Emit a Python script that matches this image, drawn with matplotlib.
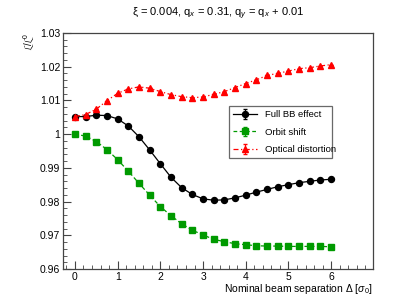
import matplotlib
matplotlib.use('Agg')
import matplotlib.pyplot as plt
from matplotlib.ticker import MultipleLocator, FuncFormatter
import numpy as np

plt.rcParams['font.family'] = ['Liberation Sans', 'DejaVu Sans']
plt.rcParams['mathtext.fontset'] = 'custom'
plt.rcParams['mathtext.rm'] = 'Liberation Sans'
plt.rcParams['mathtext.it'] = 'Liberation Sans:italic'

# separation in units of sigma_0
separation = [0, 0.25, 0.5, 0.75, 1, 1.25, 1.5, 1.75, 2, 2.25, 2.5, 2.75, 3,
              3.25, 3.5, 3.75, 4, 4.25, 4.5, 4.75, 5, 5.25, 5.5, 5.75, 6]

full_bb = [1.0052, 1.0052, 1.0056, 1.0055, 1.0045, 1.0024, 0.9992, 0.9953,
           0.9912, 0.9872, 0.9841, 0.9821, 0.9808, 0.9804, 0.9805, 0.9811,
           0.9819, 0.9828, 0.9836, 0.9844, 0.9850, 0.9856, 0.9860, 0.9864,
           0.9866]

orbit_shift = [1.0000, 0.9994, 0.9978, 0.9954, 0.9924, 0.9890, 0.9854, 0.9819,
               0.9785, 0.9758, 0.9734, 0.9715, 0.9701, 0.9688, 0.9681, 0.9675,
               0.9672, 0.9669, 0.9668, 0.9668, 0.9667, 0.9667, 0.9667, 0.9667,
               0.9666]

optical = [1.0052, 1.0058, 1.0074, 1.0099, 1.0121, 1.0134, 1.0140, 1.0136,
           1.0126, 1.0117, 1.0111, 1.0108, 1.0110, 1.0118, 1.0126, 1.0138,
           1.0150, 1.0161, 1.0174, 1.0180, 1.0187, 1.0194, 1.0197, 1.0202,
           1.0206]

labels = ['Full BB effect', 'Orbit shift', 'Optical distortion']

fig = plt.figure(figsize=(4.15, 3.0), dpi=100)
ax = fig.add_axes([0.1518, 0.1033, 0.747, 0.787])

zero = np.zeros(len(separation))
ax.errorbar(separation, full_bb, yerr=zero, color='black', lw=0.9, ls='-',
            marker='o', ms=4.3, capsize=1.5, elinewidth=0.8, label=labels[0])
ax.errorbar(separation, orbit_shift, yerr=zero, color='#009a00', lw=0.9,
            ls=(0, (3, 2)), marker='s', ms=4.0, capsize=1.5, elinewidth=0.8,
            label=labels[1])
ax.errorbar(separation, optical, yerr=zero, color='#ff0000', lw=0.9,
            ls=(0, (4, 2, 1, 2)), marker='^', ms=4.3, capsize=1.5,
            elinewidth=0.8, label=labels[2])

ax.set_xlim(-0.28, 6.98)
ax.set_ylim(0.96, 1.03)

ax.xaxis.set_major_locator(MultipleLocator(1))
ax.xaxis.set_minor_locator(MultipleLocator(0.2))
ax.yaxis.set_major_locator(MultipleLocator(0.01))
ax.yaxis.set_minor_locator(MultipleLocator(0.002))

def fmt_y(v, pos):
    s = '%.2f' % v
    return '1' if abs(v - 1) < 1e-9 else s

ax.yaxis.set_major_formatter(FuncFormatter(fmt_y))
ax.tick_params(which='both', direction='in', top=False, right=False,
               labelsize=7.5, color='#444444', pad=2)
ax.tick_params(which='major', length=6)
ax.tick_params(which='minor', length=3)
for sp in ax.spines.values():
    sp.set_color('#444444')
    sp.set_linewidth(0.9)

ax.set_xlabel(r'Nominal beam separation $\Delta$ [$\sigma_0$]', fontsize=7.5,
              loc='right', labelpad=0)
ax.set_ylabel(r'$\mathcal{L}/\mathcal{L}^0$', fontsize=7, loc='top',
              labelpad=2)
ax.set_title(r'$\mathrm{\xi}$ = 0.004, q$_x$ = 0.31, q$_y$ = q$_x$ + 0.01',
             fontsize=8, pad=12)

leg = ax.legend(bbox_to_anchor=(0.535, 0.47, 0.333, 0.229), mode='expand',
                loc='lower left', fontsize=6.8, frameon=True, fancybox=False,
                borderaxespad=0, handlelength=2.6, labelspacing=0.9)
leg.get_frame().set_edgecolor('#444444')
leg.get_frame().set_linewidth(0.9)

fig.savefig('out.png', dpi=100)
